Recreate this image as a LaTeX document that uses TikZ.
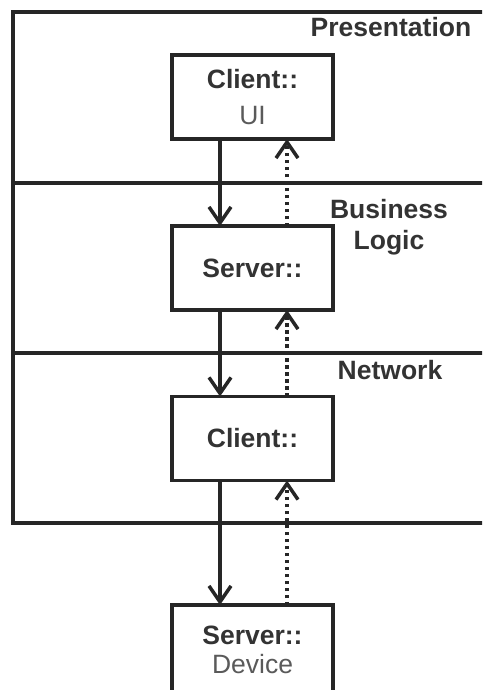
\documentclass[tikz,border=0pt]{standalone}
\usepackage{fontspec}
\setmainfont{Liberation Sans}
\usetikzlibrary{arrows.meta}
\definecolor{ink}{HTML}{262626}
\definecolor{txt}{HTML}{333333}
\definecolor{sub}{HTML}{5A5A5A}
\begin{document}
\begin{tikzpicture}[x=1pt,y=-1pt,
  frame/.style={draw=ink, line width=3.5pt},
  box/.style={draw=ink, line width=3.5pt, fill=white, minimum width=161pt,
    minimum height=84pt, outer sep=0pt, inner sep=0pt, align=center,
    font=\fontsize{26.5}{30.5}\selectfont, text=txt},
  layer/.style={font=\fontsize{26.5}{30.5}\selectfont\bfseries, text=txt,
    align=center, inner sep=0pt},
  tip/.style={-{Straight Barb[length=16pt,width=22pt,line width=3.5pt]}},
  call/.style={draw=ink, line width=3.5pt, tip},
  reply/.style={draw=ink, line width=3.5pt, dash pattern=on 3.5pt off 3.5pt, tip}]
\useasboundingbox (0,0) rectangle (482,690);
\clip (0,0) rectangle (482,690);
\fill[white] (0,0) rectangle (482,690);

% layer frame and separators
\coordinate (tl) at (13,12);
\coordinate (bl) at (13,523);
\draw[frame] (490,12) -- (tl) -- (bl) -- (490,523);
\draw[frame] (13,183) -- (490,183);
\draw[frame] (13,353) -- (490,353);

% layer names
\node[layer] (pres) at (391,27) {Presentation};
\node[layer] (biz) at (389,227) {Business\\Logic};
\node[layer] (net) at (390,370) {Network};

% components
\node[box] (ui) at (252.5,97)
  {\textbf{Client::}\\[6pt]\textcolor{sub}{UI}};
\node[box] (srv) at (252.5,268) {\textbf{Server::}};
\node[box] (cli) at (252.5,438.5) {\textbf{Client::}};
\node[box, minimum height=90pt] (dev) at (252.5,650)
  {\textbf{Server::}\\[-2pt]\textcolor{sub}{Device}};

% requests going down
\draw[call] ([xshift=-32.5pt]ui.south) -- ([xshift=-32.5pt]srv.north);
\draw[call] ([xshift=-32.5pt]srv.south) -- ([xshift=-32.5pt]cli.north);
\draw[call] ([xshift=-32.5pt]cli.south) -- ([xshift=-32.5pt]dev.north);

% responses going up
\draw[reply] ([xshift=34.5pt]srv.north) -- ([xshift=34.5pt]ui.south);
\draw[reply] ([xshift=34.5pt]cli.north) -- ([xshift=34.5pt]srv.south);
\draw[reply] ([xshift=34.5pt]dev.north) -- ([xshift=34.5pt]cli.south);
\end{tikzpicture}
\end{document}
